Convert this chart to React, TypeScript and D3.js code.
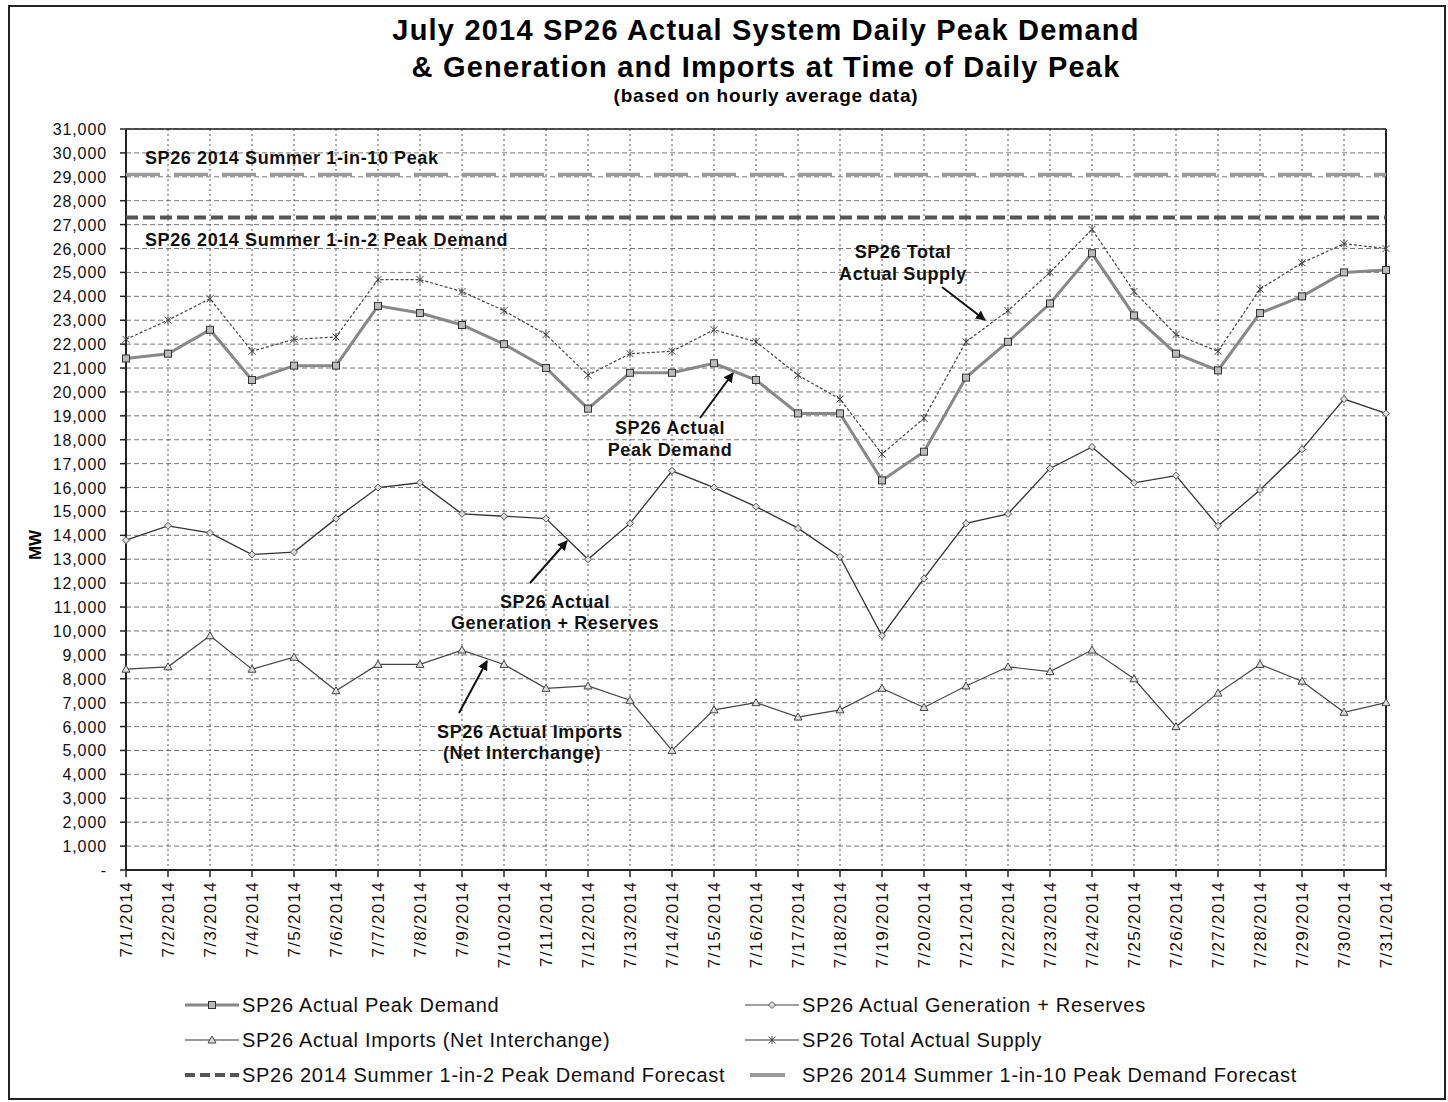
import React from "react";
import * as d3 from "d3";

const dates = Array.from({ length: 31 }, (_, i) => `7/${i + 1}/2014`);
const peakDemand = [21400, 21600, 22600, 20500, 21100, 21100, 23600, 23300, 22800, 22000, 21000, 19300, 20800, 20800, 21200, 20500, 19100, 19100, 16300, 17500, 20600, 22100, 23700, 25800, 23200, 21600, 20900, 23300, 24000, 25000, 25100];
const totalSupply = [22200, 23000, 23900, 21700, 22200, 22300, 24700, 24700, 24200, 23400, 22400, 20700, 21600, 21700, 22600, 22100, 20700, 19700, 17400, 18900, 22100, 23400, 25000, 26800, 24200, 22400, 21700, 24300, 25400, 26200, 26000];
const generation = [13800, 14400, 14100, 13200, 13300, 14700, 16000, 16200, 14900, 14800, 14700, 13000, 14500, 16700, 16000, 15200, 14300, 13100, 9800, 12200, 14500, 14900, 16800, 17700, 16200, 16500, 14400, 15900, 17600, 19700, 19100];
const imports = [8400, 8500, 9800, 8400, 8900, 7500, 8600, 8600, 9200, 8600, 7600, 7700, 7100, 5000, 6700, 7000, 6400, 6700, 7600, 6800, 7700, 8500, 8300, 9200, 8000, 6000, 7400, 8600, 7900, 6600, 7000];
const forecast1in2 = 27300;
const forecast1in10 = 29100;
const yTicks = d3.range(0, 31001, 1000);

const legendItems = [
  { label: "SP26 Actual Peak Demand", key: "peak" },
  { label: "SP26 Actual Generation + Reserves", key: "gen" },
  { label: "SP26 Actual Imports (Net Interchange)", key: "imp" },
  { label: "SP26 Total Actual Supply", key: "tot" },
  { label: "SP26 2014 Summer 1-in-2 Peak Demand Forecast", key: "f2" },
  { label: "SP26 2014 Summer 1-in-10 Peak Demand Forecast", key: "f10" },
];

const W = 1448, H = 1102;
const x0 = 126, x1 = 1386, yTop = 129, yBot = 870;

export default function App() {
  const x = d3.scalePoint<string>().domain(dates).range([x0, x1]);
  const y = d3.scaleLinear().domain([0, 31000]).range([yBot, yTop]);
  const line = d3.line<number>().x((_, i) => x(dates[i])!).y((v) => y(v));
  const font = "'Liberation Sans', Arial, sans-serif";

  const square = (cx: number, cy: number, k: string) => (
    <rect key={k} x={cx - 3.5} y={cy - 3.5} width={7} height={7} fill="#bbb" stroke="#333" strokeWidth={1} />
  );
  const star = (cx: number, cy: number, k: string, col = "#444") => (
    <g key={k} stroke={col} strokeWidth={1}>
      <line x1={cx - 3.5} y1={cy - 3.5} x2={cx + 3.5} y2={cy + 3.5} />
      <line x1={cx - 3.5} y1={cy + 3.5} x2={cx + 3.5} y2={cy - 3.5} />
      <line x1={cx} y1={cy - 4} x2={cx} y2={cy + 4} />
    </g>
  );
  const diamond = (cx: number, cy: number, k: string) => (
    <path key={k} d={`M${cx},${cy - 3.5}L${cx + 3.5},${cy}L${cx},${cy + 3.5}L${cx - 3.5},${cy}Z`} fill="#ddd" stroke="#555" strokeWidth={1} />
  );
  const tri = (cx: number, cy: number, k: string) => (
    <path key={k} d={`M${cx},${cy - 4}L${cx + 4},${cy + 3}L${cx - 4},${cy + 3}Z`} fill="#ddd" stroke="#444" strokeWidth={1} />
  );

  const arrow = (xa: number, ya: number, xb: number, yb: number, k: string) => (
    <line key={k} x1={xa} y1={ya} x2={xb} y2={yb} stroke="#111" strokeWidth={2} markerEnd="url(#arr)" />
  );

  const legendPos = (i: number) => ({ lx: i % 2 === 0 ? 185 : 745, ly: 1005 + Math.floor(i / 2) * 35 });

  const legendSymbol = (key: string, lx: number, ly: number) => {
    const mid = lx + 27;
    switch (key) {
      case "peak":
        return <g><line x1={lx} y1={ly} x2={lx + 54} y2={ly} stroke="#888" strokeWidth={3} />{square(mid, ly, "s")}</g>;
      case "gen":
        return <g><line x1={lx} y1={ly} x2={lx + 54} y2={ly} stroke="#444" strokeWidth={1.2} />{diamond(mid, ly, "d")}</g>;
      case "imp":
        return <g><line x1={lx} y1={ly} x2={lx + 54} y2={ly} stroke="#333" strokeWidth={1.2} />{tri(mid, ly, "t")}</g>;
      case "tot":
        return <g><line x1={lx} y1={ly} x2={lx + 54} y2={ly} stroke="#333" strokeWidth={1.2} />{star(mid, ly, "st")}</g>;
      case "f2":
        return <line x1={lx} y1={ly} x2={lx + 54} y2={ly} stroke="#555" strokeWidth={4} strokeDasharray="10,5" />;
      default:
        return <line x1={lx + 5} y1={ly} x2={lx + 40} y2={ly} stroke="#999" strokeWidth={4} />;
    }
  };

  return (
    <svg width={W} height={H} style={{ display: "block", position: "absolute", left: 0, top: 0, background: "#fff" }} fontFamily={font}>
      <defs>
        <marker id="arr" viewBox="0 0 10 10" refX="9" refY="5" markerWidth="5" markerHeight="5" orient="auto">
          <path d="M0,0L10,5L0,10Z" fill="#111" />
        </marker>
      </defs>
      <rect x={9} y={6} width={W - 12} height={H - 9} fill="none" stroke="#222" strokeWidth={2} />

      <text x={766} y={40} textAnchor="middle" fontWeight="bold" fontSize={29} letterSpacing={1.2}>July 2014 SP26 Actual System Daily Peak Demand</text>
      <text x={766} y={77} textAnchor="middle" fontWeight="bold" fontSize={29} letterSpacing={1.2}>&amp; Generation and Imports at Time of Daily Peak</text>
      <text x={766} y={102} textAnchor="middle" fontWeight="bold" fontSize={19} letterSpacing={0.8}>(based on hourly average data)</text>

      {/* gridlines */}
      {yTicks.slice(1).map((t) => (
        <line key={"gy" + t} x1={x0} x2={x1} y1={y(t)} y2={y(t)} stroke="#777" strokeWidth={1} strokeDasharray="5,3" />
      ))}
      {dates.slice(1, -1).map((d) => (
        <line key={"gx" + d} x1={x(d)} x2={x(d)} y1={yTop} y2={yBot} stroke="#555" strokeWidth={1} strokeDasharray="2,3" />
      ))}

      {/* axes */}
      <line x1={x0} x2={x0} y1={yTop} y2={yBot} stroke="#222" strokeWidth={2} />
      <line x1={x0} x2={x1} y1={yBot} y2={yBot} stroke="#222" strokeWidth={2} />
      <line x1={x1} x2={x1} y1={yTop} y2={yBot} stroke="#222" strokeWidth={2} />
      <line x1={x0} x2={x1} y1={yTop} y2={yTop} stroke="#222" strokeWidth={1.5} />
      {yTicks.map((t) => (
        <g key={"yt" + t}>
          <line x1={x0 - 6} x2={x0} y1={y(t)} y2={y(t)} stroke="#222" strokeWidth={1.5} />
          <text x={107} y={y(t) + 6} textAnchor="end" fontSize={16} letterSpacing={0.9} fill="#111">{t === 0 ? "-" : d3.format(",")(t)}</text>
        </g>
      ))}
      {dates.map((d) => (
        <g key={"xt" + d}>
          <line x1={x(d)} x2={x(d)} y1={yBot} y2={yBot + 7} stroke="#222" strokeWidth={1.5} />
          <text transform={`translate(${x(d)! + 6},${yBot + 11}) rotate(-90)`} textAnchor="end" fontSize={17} letterSpacing={1.3} fill="#111">{d}</text>
        </g>
      ))}
      <text transform="translate(41,545) rotate(-90)" textAnchor="middle" fontWeight="bold" fontSize={17}>MW</text>

      {/* forecast lines */}
      <line x1={x0} x2={x1} y1={y(forecast1in10)} y2={y(forecast1in10)} stroke="#999" strokeWidth={3.5} strokeDasharray="34,14" />
      <line x1={x0} x2={x1} y1={y(forecast1in2)} y2={y(forecast1in2)} stroke="#555" strokeWidth={4} strokeDasharray="12,5" />

      {/* series */}
      <path d={line(imports)!} fill="none" stroke="#444" strokeWidth={1.2} />
      {imports.map((v, i) => tri(x(dates[i])!, y(v), "ti" + i))}
      <path d={line(generation)!} fill="none" stroke="#333" strokeWidth={1.3} />
      {generation.map((v, i) => diamond(x(dates[i])!, y(v), "di" + i))}
      <path d={line(totalSupply)!} fill="none" stroke="#444" strokeWidth={1.2} strokeDasharray="3,2" />
      {totalSupply.map((v, i) => star(x(dates[i])!, y(v), "st" + i))}
      <path d={line(peakDemand)!} fill="none" stroke="#888" strokeWidth={3} />
      {peakDemand.map((v, i) => square(x(dates[i])!, y(v), "sq" + i))}

      {/* annotations */}
      <g fontWeight="bold" fontSize={18} letterSpacing={0.6} fill="#111">
        <text x={145} y={164}>SP26 2014  Summer 1-in-10 Peak</text>
        <text x={145} y={246}>SP26 2014  Summer 1-in-2 Peak Demand</text>
        <text x={903} y={258} textAnchor="middle">SP26 Total</text>
        <text x={903} y={280} textAnchor="middle">Actual Supply</text>
        <text x={670} y={434} textAnchor="middle">SP26 Actual</text>
        <text x={670} y={456} textAnchor="middle">Peak Demand</text>
        <text x={555} y={608} textAnchor="middle">SP26 Actual</text>
        <text x={555} y={629} textAnchor="middle">Generation + Reserves</text>
        <text x={530} y={738} textAnchor="middle">SP26 Actual Imports</text>
        <text x={522} y={759} textAnchor="middle">(Net Interchange)</text>
      </g>
      {arrow(942, 287, 985, 320, "a1")}
      {arrow(700, 418, 733, 373, "a2")}
      {arrow(530, 583, 567, 541, "a3")}
      {arrow(459, 713, 487, 661, "a4")}

      {/* legend */}
      {legendItems.map((it, i) => {
        const { lx, ly } = legendPos(i);
        return (
          <g key={it.key}>
            {legendSymbol(it.key, lx, ly)}
            <text x={lx + 57} y={ly + 7} fontSize={20} letterSpacing={0.7} fill="#111">{it.label}</text>
          </g>
        );
      })}
    </svg>
  );
}
